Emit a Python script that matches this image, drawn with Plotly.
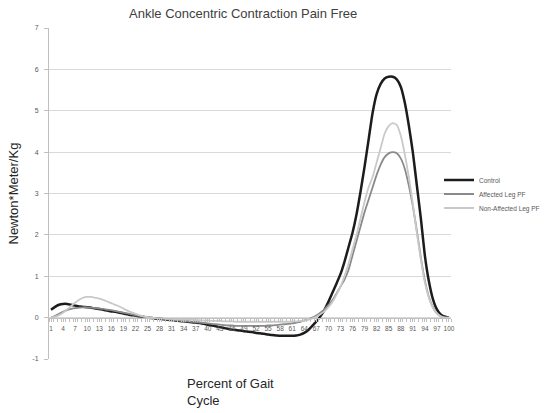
import plotly.graph_objects as go

pct = list(range(1, 101))

control = [0.19, 0.26, 0.31, 0.33, 0.33, 0.31, 0.29, 0.27, 0.26, 0.25,
           0.24, 0.22, 0.21, 0.19, 0.17, 0.15, 0.14, 0.12, 0.10, 0.08,
           0.06, 0.05, 0.03, 0.02, 0.00, -0.01, -0.02, -0.03, -0.04, -0.05,
           -0.06, -0.07, -0.08, -0.09, -0.10, -0.11, -0.12, -0.13, -0.15, -0.17,
           -0.19, -0.21, -0.23, -0.25, -0.27, -0.29, -0.30, -0.31, -0.33, -0.34,
           -0.35, -0.37, -0.38, -0.39, -0.41, -0.42, -0.43, -0.44, -0.44, -0.44,
           -0.44, -0.43, -0.41, -0.37, -0.30, -0.20, -0.09, 0.03, 0.18, 0.38,
           0.60, 0.82, 1.05, 1.35, 1.70, 2.05, 2.50, 3.05, 3.65, 4.30,
           4.95, 5.40, 5.65, 5.78, 5.82, 5.82, 5.76, 5.58, 5.20, 4.65,
           4.00, 3.20, 2.40, 1.50, 0.88, 0.45, 0.20, 0.07, 0.02, 0.00]

affected = [0.00, 0.04, 0.09, 0.14, 0.18, 0.21, 0.23, 0.24, 0.25, 0.25,
            0.24, 0.23, 0.22, 0.21, 0.19, 0.18, 0.16, 0.14, 0.12, 0.10,
            0.08, 0.06, 0.04, 0.02, 0.01, 0.00, -0.01, -0.02, -0.03, -0.04,
            -0.05, -0.06, -0.07, -0.08, -0.09, -0.10, -0.11, -0.12, -0.13, -0.14,
            -0.15, -0.16, -0.17, -0.18, -0.19, -0.19, -0.20, -0.20, -0.20, -0.20,
            -0.20, -0.20, -0.20, -0.20, -0.19, -0.19, -0.18, -0.17, -0.16, -0.15,
            -0.14, -0.12, -0.10, -0.07, -0.04, 0.00, 0.05, 0.12, 0.20, 0.30,
            0.42, 0.58, 0.75, 0.92, 1.15, 1.50, 1.85, 2.20, 2.55, 2.85,
            3.15, 3.45, 3.70, 3.88, 3.97, 4.00, 3.97, 3.85, 3.60, 3.20,
            2.70, 2.10, 1.45, 0.90, 0.50, 0.25, 0.10, 0.03, 0.00, 0.00]

non_affected = [0.00, 0.02, 0.06, 0.12, 0.20, 0.28, 0.36, 0.43, 0.48, 0.50,
                0.50, 0.48, 0.46, 0.43, 0.39, 0.35, 0.31, 0.27, 0.22, 0.17,
                0.13, 0.09, 0.06, 0.03, 0.01, 0.00, -0.01, -0.02, -0.02, -0.03,
                -0.03, -0.04, -0.04, -0.05, -0.05, -0.05, -0.06, -0.06, -0.07, -0.07,
                -0.08, -0.08, -0.08, -0.09, -0.09, -0.09, -0.10, -0.10, -0.10, -0.10,
                -0.10, -0.10, -0.10, -0.10, -0.10, -0.10, -0.10, -0.10, -0.10, -0.10,
                -0.09, -0.09, -0.08, -0.07, -0.05, -0.02, 0.02, 0.08, 0.15, 0.25,
                0.38, 0.55, 0.75, 1.00, 1.30, 1.65, 2.00, 2.40, 2.80, 3.15,
                3.40, 3.75, 4.10, 4.45, 4.63, 4.70, 4.66, 4.40, 3.95, 3.40,
                2.75, 2.05, 1.40, 0.85, 0.48, 0.24, 0.10, 0.03, 0.00, 0.00]

series_names = ["Control", "Affected Leg PF", "Non-Affected Leg PF"]
x_tick_labels = [str(v) for v in range(1, 101, 3)]
y_ticks = list(range(-1, 8))

FONT = "Liberation Sans, Arial, sans-serif"

W, H = 549, 413
L, R, T, B = 49, 98, 28, 54
PW, PH = W - L - R, H - T - B


def px_x(px):
    return (px - L) / PW


def px_y(py):
    return (H - B - py) / PH


fig = go.Figure()
styles = [("#1c1c1c", 2.5), ("#8a8a8a", 1.8), ("#c9c9c9", 1.8)]
legend_ids = ["legend", "legend2", "legend3"]
for name, ys, (col, w), lg in zip(series_names, [control, affected, non_affected], styles, legend_ids):
    fig.add_trace(go.Scatter(x=pct, y=ys, mode="lines", name=name, legend=lg,
                             line=dict(color=col, width=w, shape="spline", smoothing=0.5)))

legend_style = dict(xanchor="left", yanchor="middle",
                    font=dict(size=6.5, color="#595959", family=FONT),
                    bgcolor="rgba(0,0,0,0)", itemwidth=30)

fig.update_layout(
    width=W, height=H,
    margin=dict(l=L, r=R, t=T, b=B, autoexpand=False),
    paper_bgcolor="white", plot_bgcolor="white",
    font=dict(family=FONT, color="#595959"),
    showlegend=True,
    legend=dict(x=px_x(439), y=px_y(180), **legend_style),
    legend2=dict(x=px_x(439), y=px_y(194), **legend_style),
    legend3=dict(x=px_x(439), y=px_y(208), **legend_style),
    xaxis=dict(range=[0.5, 100.5], anchor="free", position=0.125,
               tickmode="array", tickvals=list(range(1, 101, 3)), ticktext=x_tick_labels,
               tickangle=0,
               tickfont=dict(size=6.5, color="#595959"),
               ticks="outside", ticklen=3, tickcolor="#bfbfbf",
               ticklabelstandoff=2,
               minor=dict(ticks="outside", ticklen=3, tickcolor="#bfbfbf",
                          tick0=0.5, dtick=1, showgrid=False),
               showline=True, linecolor="#bfbfbf", linewidth=1,
               showgrid=False, zeroline=False),
    yaxis=dict(range=[-1, 7], tickvals=y_ticks, ticktext=[str(v) for v in y_ticks],
               tickfont=dict(size=7, color="#595959"),
               ticks="outside", ticklen=4, tickcolor="#bfbfbf",
               ticklabelstandoff=4,
               showline=True, linecolor="#bfbfbf", linewidth=1,
               showgrid=True, gridcolor="#d9d9d9", gridwidth=1, zeroline=False),
)

fig.add_annotation(text="Ankle Concentric Contraction Pain Free",
                   xref="paper", yref="paper",
                   x=px_x(243), y=px_y(13),
                   xanchor="center", yanchor="middle", showarrow=False,
                   font=dict(size=13, color="#404040", family=FONT))
fig.add_annotation(text="Newton*Meter/Kg", xref="paper", yref="paper",
                   x=px_x(13), y=0.5, textangle=-90,
                   xanchor="center", yanchor="middle", showarrow=False,
                   font=dict(size=13, color="#262626", family=FONT))
fig.add_annotation(text="Percent of Gait<br>Cycle", xref="paper", yref="paper",
                   x=px_x(185), y=px_y(392),
                   xanchor="left", yanchor="middle", align="left", showarrow=False,
                   font=dict(size=13, color="#262626", family=FONT))

fig.write_html("out.html", config={"displayModeBar": False},
               post_script="document.body.style.margin='0';document.body.style.overflow='hidden';")
